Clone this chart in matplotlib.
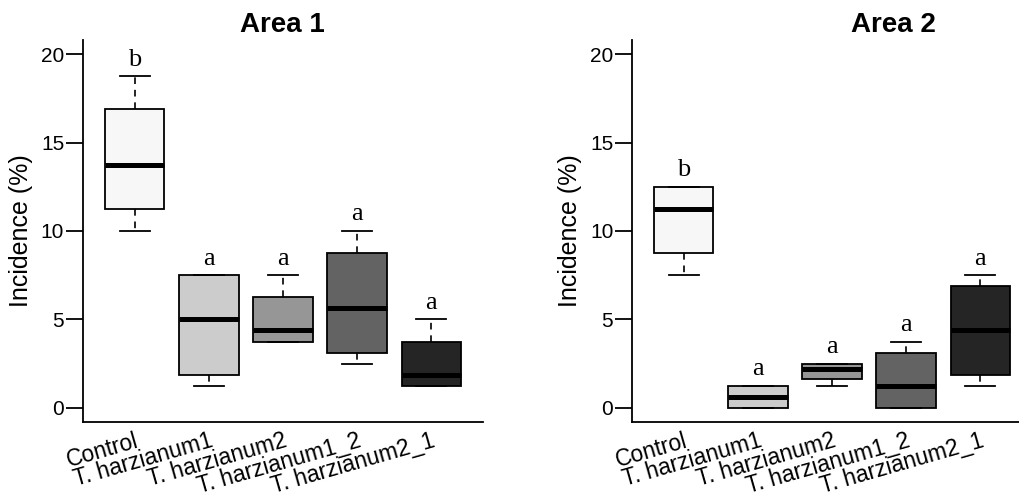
import matplotlib
matplotlib.use('Agg')
import matplotlib.pyplot as plt

groups = ['Control', 'T. harzianum1', 'T. harzianum2', 'T. harzianum1_2', 'T. harzianum2_1']
colors = ['#f7f7f7', '#cccccc', '#969696', '#636363', '#252525']

# five-number summaries: low whisker, Q1, median, Q3, high whisker
area1_low = [10.0, 1.25, 3.75, 2.5, 1.25]
area1_q1 = [11.25, 1.875, 3.75, 3.125, 1.25]
area1_med = [13.75, 5.0, 4.375, 5.625, 1.875]
area1_q3 = [16.875, 7.5, 6.25, 8.75, 3.75]
area1_high = [18.75, 7.5, 7.5, 10.0, 5.0]
area1_letters = ['b', 'a', 'a', 'a', 'a']

area2_low = [7.5, 0.0, 1.25, 0.0, 1.25]
area2_q1 = [8.75, 0.0, 1.625, 0.0, 1.875]
area2_med = [11.25, 0.625, 2.19, 1.25, 4.375]
area2_q3 = [12.5, 1.25, 2.5, 3.125, 6.875]
area2_high = [12.5, 1.25, 2.5, 3.75, 7.5]
area2_letters = ['b', 'a', 'a', 'a', 'a']

yticks = [0, 5, 10, 15, 20]

plt.rcParams['font.family'] = ['Liberation Sans', 'DejaVu Sans']

fig = plt.figure(figsize=(10.2, 5.01), dpi=100)


def draw_panel(ax, low, q1, med, q3, high, letters):
    stats = []
    for i in range(len(groups)):
        stats.append({'whislo': low[i], 'q1': q1[i], 'med': med[i],
                      'q3': q3[i], 'whishi': high[i], 'fliers': []})
    pos = list(range(1, len(groups) + 1))
    bp = ax.bxp(stats, positions=pos, widths=0.8, capwidths=0.4,
                patch_artist=True, showfliers=False,
                boxprops=dict(edgecolor='black', linewidth=1.3),
                medianprops=dict(color='black', linewidth=3.6, solid_capstyle='butt'),
                whiskerprops=dict(color='black', linewidth=1.2, linestyle=(0, (4, 3.5))),
                capprops=dict(color='black', linewidth=1.3))
    for patch, c in zip(bp['boxes'], colors):
        patch.set_facecolor(c)
    for i in range(len(groups)):
        ax.annotate(letters[i], (pos[i], high[i]), xytext=(0, 4),
                    textcoords='offset points', ha='center', va='bottom',
                    fontsize=19, family='Liberation Serif')

    ax.set_xlim(0.3, 5.7)
    ax.set_ylim(-0.8, 20.8)
    ax.set_yticks(yticks)
    ax.set_xticks(pos)
    ax.set_xticklabels(groups, rotation=16, ha='right', va='top',
                       rotation_mode='anchor', fontsize=16.5)
    ax.tick_params(axis='x', length=0, pad=5)
    ax.tick_params(axis='y', length=12, width=1.3, labelsize=15, pad=1.5)
    ax.spines['top'].set_visible(False)
    ax.spines['right'].set_visible(False)
    ax.spines['left'].set_linewidth(1.3)
    ax.spines['bottom'].set_linewidth(1.3)
    ax.set_ylabel('Incidence (%)', fontsize=18)
    ax.yaxis.set_label_coords(-0.125, 0.5)


ax1 = fig.add_axes([83 / 1020, 79 / 501, 400 / 1020, 382 / 501])
draw_panel(ax1, area1_low, area1_q1, area1_med, area1_q3, area1_high, area1_letters)

ax2 = fig.add_axes([632 / 1020, 79 / 501, 400 / 1020, 382 / 501])
draw_panel(ax2, area2_low, area2_q1, area2_med, area2_q3, area2_high, area2_letters)

fig.text(282 / 1020, 1 - 32 / 501, 'Area 1', ha='center', va='baseline',
         fontsize=20, fontweight='bold')
fig.text(893 / 1020, 1 - 32 / 501, 'Area 2', ha='center', va='baseline',
         fontsize=20, fontweight='bold')

fig.savefig('out.png', dpi=100)
